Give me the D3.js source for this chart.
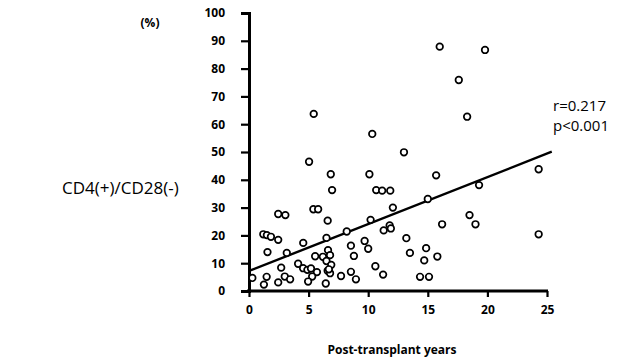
<!DOCTYPE html>
<html>
<head>
<meta charset="utf-8">
<script src="https://cdn.jsdelivr.net/npm/d3@7"></script>
<style>
  body { margin: 0; background: #fff; }
  svg { display: block; }
  .tick text { font-family: "Open Sans", sans-serif; font-weight: 700; font-size: 12px; fill: #000; }
</style>
</head>
<body>
<svg id="chart" width="634" height="363"></svg>
<script>
// years after transplant, and % of CD4(+)/CD28(-) cells
var years = [5.43, 10.34, 16.0, 19.8, 17.6, 18.3, 13.0, 5.04, 6.86, 10.1,
    15.7, 24.3, 6.97, 10.67, 11.17, 11.85, 19.3, 15.0, 12.07, 5.4,
    5.8, 2.45, 3.05, 6.6, 10.2, 18.5, 19.0, 16.2, 11.8, 11.9,
    11.3, 8.2, 24.3, 1.2, 1.5, 1.84, 2.45, 6.5, 13.2, 9.7,
    4.55, 8.55, 10.0, 14.86, 6.63, 1.55, 3.17, 13.5, 8.8, 5.55,
    6.2, 6.8, 15.8, 6.5, 14.7, 4.12, 6.9, 10.6, 2.7, 4.54,
    4.9, 5.2, 5.7, 6.6, 6.8, 8.55, 11.25, 0.28, 1.48, 3.0,
    3.45, 7.72, 8.97, 14.35, 15.1, 5.3, 4.96, 2.45, 1.25, 6.44,
    6.7];
var percents = [63.7, 56.5, 87.9, 86.7, 75.9, 62.7, 49.9, 46.5, 42.0, 42.0,
    41.6, 43.8, 36.3, 36.3, 36.1, 36.1, 38.1, 33.1, 30.0, 29.4,
    29.4, 27.7, 27.3, 25.3, 25.6, 27.3, 24.0, 24.0, 23.6, 22.5,
    21.8, 21.4, 20.4, 20.4, 20.1, 19.5, 18.4, 19.1, 19.0, 18.0,
    17.3, 16.3, 15.2, 15.4, 14.7, 14.0, 13.7, 13.7, 12.6, 12.5,
    12.3, 12.9, 12.4, 10.8, 11.0, 9.8, 9.4, 8.9, 8.4, 8.2,
    7.6, 8.1, 6.8, 7.3, 6.4, 6.9, 5.9, 4.7, 5.1, 5.2,
    4.2, 5.4, 4.2, 5.1, 5.1, 5.2, 3.4, 3.1, 2.3, 2.7,
    7.8];

// regression line end points
var fitYears = [0, 25.4];
var fitPercents = [7.2, 50.1];

var xTicks = [0, 5, 10, 15, 20, 25];
var yTicks = [0, 10, 20, 30, 40, 50, 60, 70, 80, 90, 100];

var svg = d3.select("#chart");

var x = d3.scaleLinear().domain([0, 25]).range([249, 547]);
var y = d3.scaleLinear().domain([0, 100]).range([291, 13]);

// y axis
var yAxis = svg.append("g")
    .attr("transform", "translate(" + x(0) + ",0)")
    .call(d3.axisLeft(y).tickValues(yTicks).tickSizeOuter(0).tickSize(8).tickPadding(16));
yAxis.select(".domain").attr("stroke", "#000").attr("stroke-width", 3);
yAxis.selectAll(".tick line").attr("x1", 1).attr("stroke-width", 2.2);

// x axis
var xAxis = svg.append("g")
    .attr("transform", "translate(0," + y(0) + ")")
    .call(d3.axisBottom(x).tickValues(xTicks).tickSizeOuter(0).tickSize(6).tickPadding(8));
xAxis.select(".domain").attr("stroke", "#000").attr("stroke-width", 3)
    .attr("d", "M" + (x(0) - 2) + ",0H" + (x(25) + 1));
xAxis.selectAll(".tick line").attr("stroke-width", 2.2);

// regression line
var fit = fitYears.map(function(d, i) { return [d, fitPercents[i]]; });
svg.append("path")
    .datum(fit)
    .attr("d", d3.line().x(function(d) { return x(d[0]); }).y(function(d) { return y(d[1]); }))
    .attr("fill", "none")
    .attr("stroke", "#000")
    .attr("stroke-width", 2.4);

// points
var pts = years.map(function(d, i) { return {yr: d, pct: percents[i]}; });
svg.append("g").selectAll("circle")
    .data(pts)
    .enter()
    .append("circle")
    .attr("cx", function(d) { return x(d.yr); })
    .attr("cy", function(d) { return y(d.pct); })
    .attr("r", 3.3)
    .attr("fill", "#fff")
    .attr("stroke", "#000")
    .attr("stroke-width", 1.7);

// labels
svg.append("text")
    .attr("x", 150).attr("y", 27)
    .attr("text-anchor", "middle")
    .style("font-family", "Open Sans, sans-serif")
    .style("font-weight", 700)
    .style("font-size", "12px")
    .text("(%)");

svg.append("text")
    .attr("x", 62).attr("y", 194)
    .style("font-family", "Open Sans, sans-serif")
    .style("font-size", "17px")
    .text("CD4(+)/CD28(-)");

svg.append("text")
    .attr("x", 553).attr("y", 111)
    .style("font-family", "Open Sans, sans-serif")
    .style("font-size", "15px")
    .text("r=0.217");

svg.append("text")
    .attr("x", 553).attr("y", 131)
    .style("font-family", "Open Sans, sans-serif")
    .style("font-size", "15px")
    .text("p<0.001");

svg.append("text")
    .attr("x", 392).attr("y", 354)
    .attr("text-anchor", "middle")
    .style("font-family", "Open Sans, sans-serif")
    .style("font-weight", 700)
    .style("font-size", "12px")
    .text("Post-transplant years");
</script>
</body>
</html>
